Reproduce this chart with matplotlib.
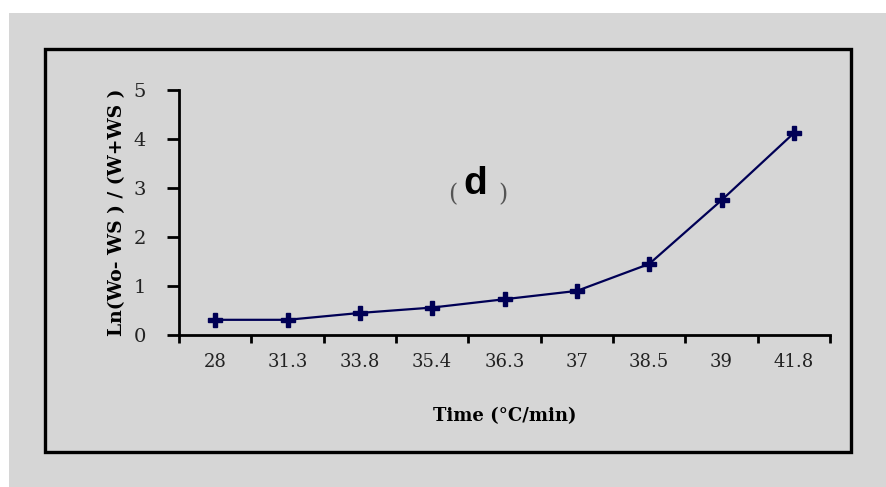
import matplotlib
matplotlib.use("Agg")
import matplotlib.pyplot as plt
from matplotlib.patches import Rectangle

categories = ["28", "31.3", "33.8", "35.4", "36.3", "37", "38.5", "39", "41.8"]
values = [0.31, 0.31, 0.45, 0.56, 0.73, 0.90, 1.45, 2.75, 4.12]
y_ticks = [0, 1, 2, 3, 4, 5]

W, H = 886, 487
fig = plt.figure(figsize=(W / 100, H / 100), dpi=100)
fig.patch.set_facecolor("white")

def fx(px):
    return px / W

def fy(py):
    return 1 - py / H

# gray background
fig.patches.append(Rectangle((fx(9), 0), 1 - fx(9), fy(13), transform=fig.transFigure,
                             facecolor="#d6d6d6", edgecolor="none", zorder=-2))
# black frame
fig.patches.append(Rectangle((fx(45), fy(452)), fx(851) - fx(45), fy(49) - fy(452),
                             transform=fig.transFigure, facecolor="none",
                             edgecolor="black", linewidth=2.4, zorder=-1))

ax = fig.add_axes([fx(179), fy(335), fx(830) - fx(179), fy(90) - fy(335)])
ax.set_zorder(2)
ax.set_facecolor("none")

n = len(categories)
xs = [i + 0.5 for i in range(n)]
ax.plot(xs, values, color="#000055", linewidth=1.6, marker="P", markersize=9.5,
        markeredgecolor="#000055", markerfacecolor="#000055")

ax.set_xlim(0, n)
ax.set_ylim(0, 5)
ax.set_xticks(range(n + 1))
ax.set_xticklabels([])
ax.set_xticks(xs, minor=True)
ax.set_xticklabels(categories, minor=True)
ax.set_yticks(y_ticks)
ax.set_yticklabels([str(v) for v in y_ticks])

for s in ["top", "right"]:
    ax.spines[s].set_visible(False)
for s in ["left", "bottom"]:
    ax.spines[s].set_linewidth(2.0)

ax.tick_params(axis="y", which="major", direction="out", length=9, width=2.0, pad=15,
               labelsize=14, labelcolor="#222222")
ax.tick_params(axis="x", which="major", direction="out", length=6, width=2.0)
ax.tick_params(axis="x", which="minor", length=0, pad=13, labelsize=13,
               labelcolor="#222222")
for lab in ax.get_xticklabels(minor=True) + ax.get_yticklabels():
    lab.set_fontfamily("DejaVu Serif")

ax.set_xlabel("Time (°C/min)", fontfamily="DejaVu Serif", fontweight="bold",
              fontsize=13, labelpad=26)
ax.set_ylabel("Ln(Wo- WS ) / (W+WS )", fontfamily="DejaVu Serif", fontweight="bold",
              fontsize=13.5, labelpad=5)

ax.text(3.79, 2.86, "(", fontsize=17, fontfamily="DejaVu Serif", ha="center",
        va="center", color="#555555")
ax.text(4.1, 3.08, "d", fontsize=28, fontfamily="Liberation Sans", fontweight="bold",
        ha="center", va="center")
ax.text(4.48, 2.86, ")", fontsize=17, fontfamily="DejaVu Serif", ha="center",
        va="center", color="#555555")

fig.savefig("out.png", dpi=100, facecolor=fig.get_facecolor())
